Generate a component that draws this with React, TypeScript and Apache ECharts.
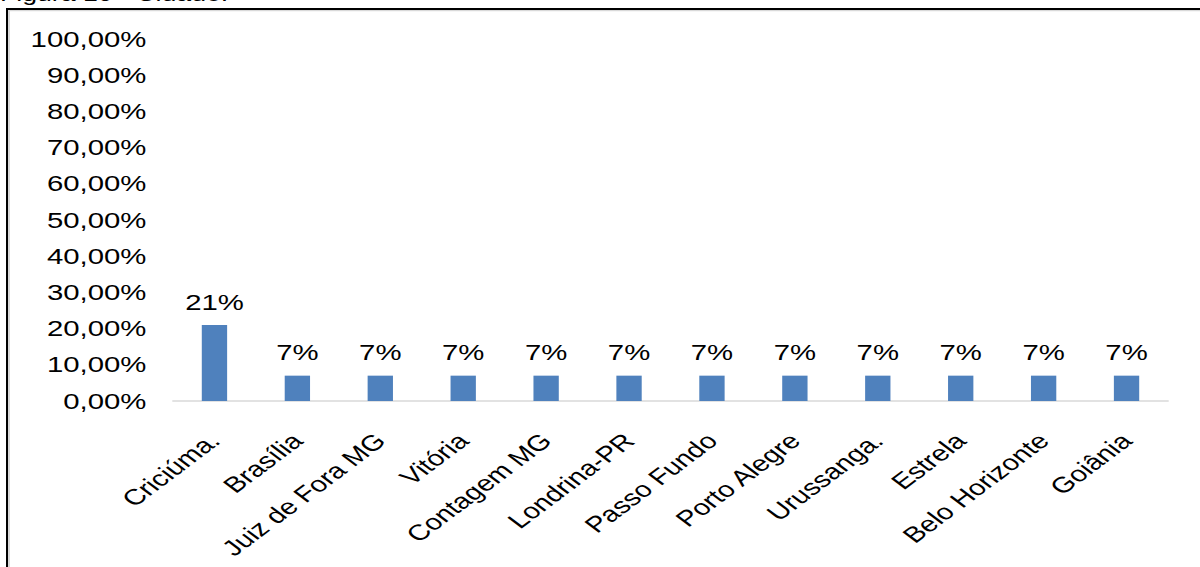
import React, { useEffect, useRef } from "react";
import * as echarts from "echarts";

// Cities and their share of responses (%)
const cities = [
  "Criciúma.",
  "Brasília",
  "Juiz de Fora MG",
  "Vitória",
  "Contagem MG",
  "Londrina-PR",
  "Passo Fundo",
  "Porto Alegre",
  "Urussanga.",
  "Estrela",
  "Belo Horizonte",
  "Goiânia",
];
const shares = [21, 7, 7, 7, 7, 7, 7, 7, 7, 7, 7, 7];
const shareLabels = ["21%", "7%", "7%", "7%", "7%", "7%", "7%", "7%", "7%", "7%", "7%", "7%"];
const captionText = "Figura 10 - Cidade.";

const FONT = "'Liberation Sans', Arial, Helvetica, sans-serif";
// The figure is drawn on a narrower canvas and widened horizontally.
const STRETCH = 1200 / 900;
const CHART_W = 900;
const CHART_H = 567;

export default function App() {
  const ref = useRef<HTMLDivElement>(null);

  useEffect(() => {
    if (!ref.current) return;
    const chart = echarts.init(ref.current, undefined, { renderer: "svg" });
    chart.setOption({
      animation: false,
      backgroundColor: "#ffffff",
      grid: { left: 129.75, right: 24, top: 39, bottom: 166, containLabel: false },
      xAxis: {
        type: "category",
        data: cities,
        axisLine: { show: true, lineStyle: { color: "#d9d9d9", width: 1.5 } },
        axisTick: { show: false },
        axisLabel: {
          interval: 0,
          rotate: 45,
          margin: 36,
          color: "#000000",
          fontFamily: FONT,
          fontSize: 22,
        },
      },
      yAxis: {
        type: "value",
        min: 0,
        max: 100,
        interval: 10,
        axisLine: { show: false },
        axisTick: { show: false },
        splitLine: { show: false },
        axisLabel: {
          margin: 20,
          color: "#000000",
          fontFamily: FONT,
          fontSize: 22,
          formatter: (v: number) => v.toFixed(2).replace(".", ",") + "%",
        },
      },
      series: [
        {
          type: "bar",
          data: shares,
          barWidth: 19,
          itemStyle: { color: "#4f81bd" },
          label: {
            show: true,
            position: "top",
            distance: 12,
            color: "#000000",
            fontFamily: FONT,
            fontSize: 22,
            formatter: (p: any) => shareLabels[p.dataIndex],
          },
        },
      ],
      graphic: [
        {
          type: "text",
          left: 0,
          top: -16,
          style: {
            text: captionText,
            fontFamily: FONT,
            fontSize: 20,
            fill: "#000000",
          },
        },
        // frame: dark edge with a soft grey inner shadow
        {
          type: "line",
          shape: { x1: 4.5, y1: 10.5, x2: CHART_W, y2: 10.5 },
          style: { stroke: "#d9d9d9", lineWidth: 1.5 },
        },
        {
          type: "line",
          shape: { x1: 6.75, y1: 9, x2: 6.75, y2: CHART_H },
          style: { stroke: "#d9d9d9", lineWidth: 1.5 },
        },
        {
          type: "line",
          shape: { x1: 4.5, y1: 9, x2: CHART_W, y2: 9 },
          style: { stroke: "#000000", lineWidth: 2 },
        },
        {
          type: "line",
          shape: { x1: 5.25, y1: 8, x2: 5.25, y2: CHART_H },
          style: { stroke: "#000000", lineWidth: 1.5 },
        },
      ],
    });
    return () => chart.dispose();
  }, []);

  return (
    <div
      style={{
        position: "absolute",
        left: 0,
        top: 0,
        width: 1200,
        height: CHART_H,
        overflow: "hidden",
        background: "#ffffff",
      }}
    >
      <div
        ref={ref}
        style={{
          width: CHART_W,
          height: CHART_H,
          transform: `scaleX(${STRETCH})`,
          transformOrigin: "0 0",
        }}
      />
    </div>
  );
}
